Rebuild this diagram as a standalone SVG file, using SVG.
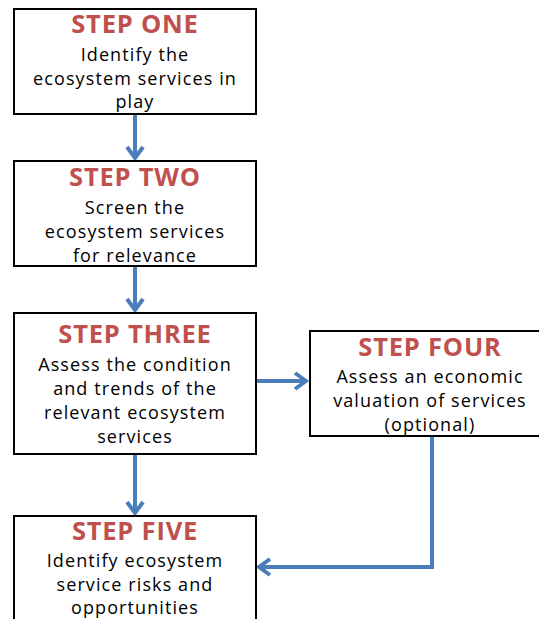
<svg xmlns="http://www.w3.org/2000/svg" width="539" height="619" viewBox="0 0 539 619">
<style>
.box{fill:#fff;stroke:#000;stroke-width:2}
.t{font-family:"Open Sans","Liberation Sans",Arial,sans-serif;font-weight:bold;font-size:25.5px;letter-spacing:0.8px;fill:#c0504d;text-anchor:middle}
.b{font-family:"Open Sans","Liberation Sans",Arial,sans-serif;font-size:18px;letter-spacing:1.1px;fill:#000;text-anchor:middle}
.c{fill:none;stroke:#4a7ebb;stroke-width:4}
</style>
<defs>
<marker id="ah" markerUnits="userSpaceOnUse" viewBox="0 0 20 20" refX="17" refY="10" markerWidth="20" markerHeight="20" orient="auto">
<polyline points="6,2 17,10 6,18" fill="none" stroke="#4a7ebb" stroke-width="4"/>
</marker>
</defs>
<g id="connectors">
<line class="c" x1="135" y1="115" x2="135" y2="158" marker-end="url(#ah)"/>
<line class="c" x1="135" y1="266" x2="135" y2="310" marker-end="url(#ah)"/>
<line class="c" x1="135" y1="455" x2="135" y2="513" marker-end="url(#ah)"/>
<line class="c" x1="257" y1="381" x2="306" y2="381" marker-end="url(#ah)"/>
<polyline class="c" points="432,436 432,567 259,567" marker-end="url(#ah)"/>
</g>
<g id="step1">
<rect class="box" x="14" y="9" width="242" height="105"/>
<text class="t" x="135" y="33">STEP ONE</text>
<text class="b" x="135" y="61">Identify the</text>
<text class="b" x="135" y="85">ecosystem services in</text>
<text class="b" x="135" y="108">play</text>
</g>
<g id="step2">
<rect class="box" x="14" y="161" width="242" height="105"/>
<text class="t" x="135" y="186">STEP TWO</text>
<text class="b" x="135" y="214">Screen the</text>
<text class="b" x="135" y="238">ecosystem services</text>
<text class="b" x="135" y="262">for relevance</text>
</g>
<g id="step3">
<rect class="box" x="14" y="313" width="242" height="141"/>
<text class="t" x="135" y="343">STEP THREE</text>
<text class="b" x="135" y="371">Assess the condition</text>
<text class="b" x="135" y="395">and trends of the</text>
<text class="b" x="135" y="419">relevant ecosystem</text>
<text class="b" x="135" y="443">services</text>
</g>
<g id="step4">
<rect class="box" x="310" y="331" width="235" height="105"/>
<text class="t" x="430" y="356">STEP FOUR</text>
<text class="b" x="430" y="383">Assess an economic</text>
<text class="b" x="430" y="407">valuation of services</text>
<text class="b" x="430" y="431">(optional)</text>
</g>
<g id="step5">
<rect class="box" x="14" y="516" width="242" height="110"/>
<text class="t" x="135" y="540">STEP FIVE</text>
<text class="b" x="135" y="567">Identify ecosystem</text>
<text class="b" x="135" y="591">service risks and</text>
<text class="b" x="135" y="614">opportunities</text>
</g>
</svg>
